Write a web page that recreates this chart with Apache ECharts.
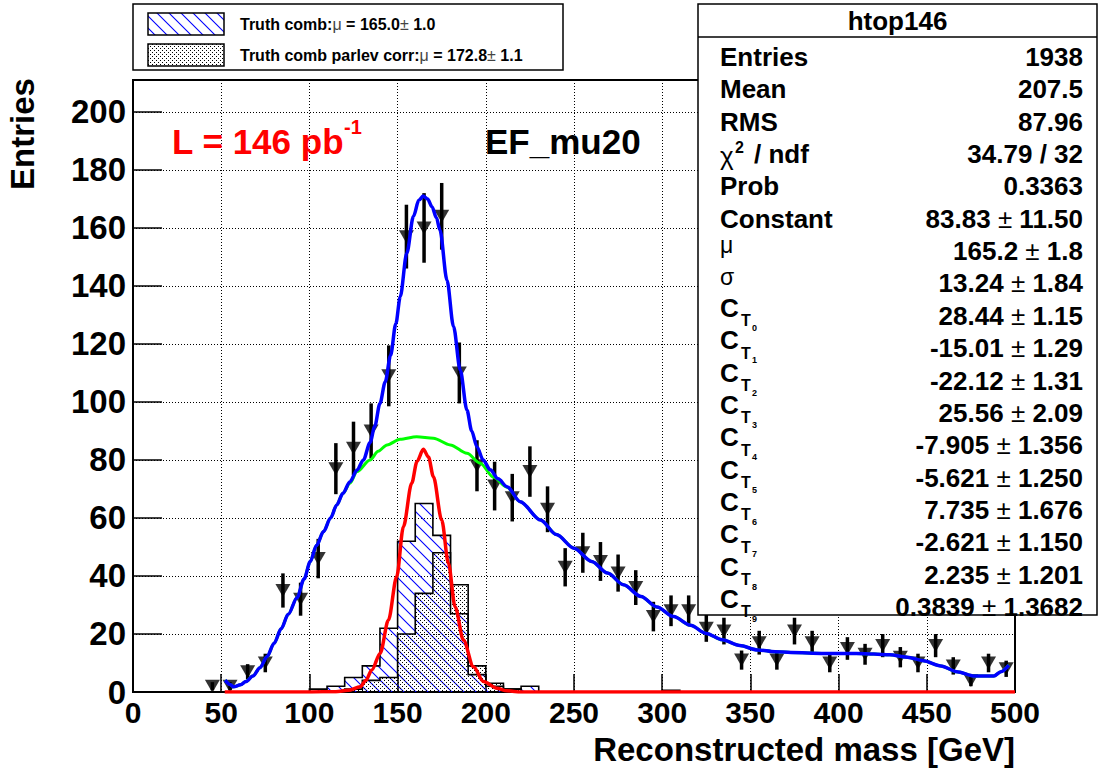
<!DOCTYPE html>
<html><head><meta charset="utf-8">
<script src="https://cdn.jsdelivr.net/npm/echarts@6/dist/echarts.min.js"></script>
<style>html,body{margin:0;padding:0;background:#fff}#c{width:1101px;height:769px}</style>
</head><body><div id="c"></div>
<script>
// ---------------- data ----------------
const binCenters = [45,55,65,75,85,95,105,115,125,135,145,155,165,175,185,195,205,215,225,235,245,255,265,275,285,295,305,315,325,335,345,355,365,375,385,395,405,415,425,435,445,455,465,475,485,495];
const entries = [2,2,7,10,35,32,46,77,84,90,109,157,160,164,110,78,71,67,76,63,43,48,45,41,36,26,28,28,22,21,11,17,11,21,17,10,15,13,16,12,10,16,9,4,10,8];
const entryErrors = [1.4,1.4,2.6,3.2,5.9,5.7,6.8,8.8,9.2,9.5,10.5,11,12,11.5,10.5,8.8,8.4,8.2,8.7,7.9,6.6,6.9,6.7,6.4,6,5.1,5.3,5.3,4.7,4.6,3.3,4.1,3.3,4.6,4.1,3.2,3.9,3.6,4,3.5,3.2,4,3,2,3.2,2.8];

const histBinLow = [100,110,120,130,140,150,160,170,180,190,200,210,220,230,240,250,260,270,280,290,300];
const histBinWidth = 10;
const truthComb       = [1,2,5,9,22,52,65,54,27,6,2,1,2,0,0,0,0,0,0,0,0.6];
const truthCombParlev = [0,0,1,4,5,20,34,48,37,9,3,1,0,0,0,0,0,0,0,0,0];

const fitTotal = [[52.2,4.1],[55,2.6],[57,1.8],[61,2.5],[64,3.6],[68,5.5],[72,8.4],[76,12.2],[80,16.8],[84,21.8],[88,26.8],[93,32.5],[97,39],[100.5,45],[104,50.5],[108,55.3],[112,60],[115.5,64.5],[119,68.5],[123,72.5],[127,76.5],[130.6,80],[134.4,86],[137,91.5],[140,99.5],[143,107],[146,116],[149,127],[151.5,136.3],[155.2,151.3],[159,164],[162,169.5],[164.5,171],[167,170],[169.5,167.3],[172,163.5],[174,159.3],[178,142],[181.7,126],[185.5,111],[189.3,97.2],[192,90],[195,84.5],[198.5,80],[202.5,76.6],[207,73.5],[212,70.8],[219.5,65.6],[231,59.3],[240,54.3],[250,49.6],[260,45],[269,41],[278,37],[288,32.9],[297,29.3],[306.5,26],[316,23],[325,20.2],[334,18],[344,16],[354,14.5],[364,13.9],[373,13.6],[392,13.3],[410,13.3],[420,13.1],[429,12.8],[439,12],[448,10.8],[458,9],[467,7],[477,5.5],[488,5.5],[492,7],[496.5,9.3]];
const fitBackground = [[52.2,4.1],[55,2.6],[57,1.8],[61,2.5],[64,3.6],[68,5.5],[72,8.4],[76,12.2],[80,16.8],[84,21.8],[88,26.8],[93,32.5],[97,39],[100.5,45],[104,50.5],[108,55.3],[112,60],[115.5,64.5],[119,68.5],[123,72],[127,76],[134.4,80],[139,83],[144,85.2],[151.4,87.1],[160.8,88],[170.3,87.5],[179.8,85.2],[189.3,82.3],[196.8,78.9],[204.4,74],[212,70.6],[219.5,65.6],[231,59.3],[240,54.3],[250,49.6],[260,45],[269,41],[278,37],[288,32.9],[297,29.3],[306.5,26],[316,23],[325,20.2],[334,18],[344,16],[354,14.5],[364,13.9],[373,13.6],[392,13.3],[410,13.3],[420,13.1],[429,12.8],[439,12],[448,10.8],[458,9],[467,7],[477,5.5],[488,5.5],[492,7],[496.5,9.3]];
const fitGaus = [[52,0],[100,0],[115,0.1],[122,0.6],[128.8,1.8],[132,4],[135.4,7.6],[140.1,13.3],[144.8,24.8],[149.5,39.8],[153.3,57],[158,72],[161,79.5],[164.6,83.7],[167.5,81],[170.3,74.2],[175,59.3],[178.8,44.4],[182.6,29.4],[187.3,17.9],[193,8.7],[198.7,3.6],[206.3,1.3],[212,0.4],[220,0],[500,0]];

const xTickStep = 50, yTickStep = 20;
const legendTexts = [
  ['Truth comb:', '165.0', '1.0'],
  ['Truth comb parlev corr:', '172.8', '1.1']
];
const statsTitle = 'htop146';
const statsPlain = [['Entries','1938'],['Mean','207.5'],['RMS','87.96'],['χ2 / ndf','34.79 / 32'],['Prob','0.3363']];
const statsParams = [['Constant','83.83','11.50'],['μ','165.2','1.8'],['σ','13.24','1.84'],
  ['T0','28.44','1.15'],['T1','-15.01','1.29'],['T2','-22.12','1.31'],['T3','25.56','2.09'],
  ['T4','-7.905','1.356'],['T5','-5.621','1.250'],['T6','7.735','1.676'],['T7','-2.621','1.150'],
  ['T8','2.235','1.201'],['T9','0.3839','1.3682']];

// ---------------- rendering ----------------
const FF = '"Liberation Sans", Arial, Helvetica, sans-serif';
function patternURL(w, h, draw){ const c=document.createElement('canvas'); c.width=w; c.height=h; draw(c.getContext('2d')); return c.toDataURL('image/png'); }
const hatchFill = {image: patternURL(12,12,g=>{ g.strokeStyle='#0000ff'; g.lineWidth=1.1; g.beginPath(); g.moveTo(-2,-2); g.lineTo(14,14); g.moveTo(-2,10); g.lineTo(2,14); g.moveTo(10,-2); g.lineTo(14,2); g.stroke(); }), repeat:'repeat', imageWidth:12, imageHeight:12};
const dotFill = {image: patternURL(4,4,g=>{ g.fillStyle='#000'; g.fillRect(0,0,1,1); g.fillRect(2,2,1,1); }), repeat:'repeat', imageWidth:4, imageHeight:4};

function histPts(vals){
  const pts=[[0,0],[histBinLow[0],0]];
  for(let i=0;i<histBinLow.length;i++){ pts.push([histBinLow[i],vals[i]]); pts.push([histBinLow[i]+histBinWidth,vals[i]]); }
  const last=histBinLow[histBinLow.length-1]+histBinWidth;
  pts.push([last,0]); pts.push([500,0]);
  return pts;
}
function histSeries(vals, fill){
  const pts = histPts(vals);
  return {type:'custom', coordinateSystem:'cartesian2d', silent:true, data:[[0,0]], encode:{x:0,y:1},
    renderItem:(p,api)=>{ const c=pts.map(q=>api.coord(q));
      return {type:'group', children:[
        {type:'polygon', shape:{points:c}, style:{fill:fill, stroke:null}},
        {type:'polyline', shape:{points:c}, style:{fill:null, stroke:'#000', lineWidth:1.6}}]}; }};
}

const chart = echarts.init(document.getElementById('c'), null, {renderer:'svg'});

const g = [];
// legend box
g.push({type:'rect', shape:{x:133,y:4,width:430,height:66}, style:{fill:'#fff', stroke:'#000', lineWidth:1.5}});
legendTexts.forEach((t,i)=>{
  const cy = 24 + i*31;
  g.push({type:'rect', shape:{x:148,y:cy-11,width:76,height:22}, style:{fill:i===0?hatchFill:dotFill, stroke:'#000', lineWidth:1.5}});
  g.push({type:'text', x:240, y:cy, style:{text:'{b|'+t[0]+'}{s|μ}{b| = '+t[1]+'}{s|±}{b| '+t[2]+'}', verticalAlign:'middle', align:'left',
    rich:{b:{font:'bold 16px '+FF, fill:'#000'}, s:{font:'16px '+FF, fill:'#444'}}}});
});
// stats box
const SX=698, SY=4, SW=399, SH=611, LX=720, RX=1083;
g.push({type:'rect', shape:{x:SX,y:SY,width:SW,height:SH}, style:{fill:'#fff', stroke:'#000', lineWidth:1.5}});
g.push({type:'line', shape:{x1:SX,y1:37,x2:SX+SW,y2:37}, style:{stroke:'#000', lineWidth:1.5}});
g.push({type:'text', x:SX+SW/2, y:21, style:{text:statsTitle, font:'bold 26px '+FF, fill:'#000', align:'center', verticalAlign:'middle'}});
const rowY = i => 57 + i*32.35;
const boldS = 'bold 26px '+FF;
statsPlain.forEach((r,i)=>{
  const y=rowY(i);
  if(r[0].startsWith('χ')){
    g.push({type:'text', x:LX, y:y+2, style:{text:'χ', font:'26px '+FF, fill:'#000', align:'left', verticalAlign:'middle'}});
    g.push({type:'text', x:LX+15, y:y-7, style:{text:'2', font:'bold 16px '+FF, fill:'#000', align:'left', verticalAlign:'middle'}});
    g.push({type:'text', x:LX+34, y:y, style:{text:'/ ndf', font:boldS, fill:'#000', align:'left', verticalAlign:'middle'}});
  } else {
    g.push({type:'text', x:LX, y:y, style:{text:r[0], font:boldS, fill:'#000', align:'left', verticalAlign:'middle'}});
  }
  g.push({type:'text', x:RX, y:y, style:{text:r[1], font:boldS, fill:'#000', align:'right', verticalAlign:'middle'}});
});
statsParams.forEach((r,j)=>{
  const y=rowY(j+5);
  if(r[0].startsWith('T')){
    g.push({type:'text', x:LX, y:y-8, style:{text:'C', font:boldS, fill:'#000', align:'left', verticalAlign:'middle'}});
    g.push({type:'text', x:LX+21, y:y+5, style:{text:'T', font:'bold 16px '+FF, fill:'#000', align:'left', verticalAlign:'middle'}});
    g.push({type:'text', x:LX+32, y:y+12, style:{text:r[0].slice(1), font:'bold 9px '+FF, fill:'#000', align:'left', verticalAlign:'middle'}});
  } else if(r[0]==='μ' || r[0]==='σ'){
    g.push({type:'text', x:LX, y:y-6, style:{text:r[0], font:'23px '+FF, fill:'#000', align:'left', verticalAlign:'middle'}});
  } else {
    g.push({type:'text', x:LX, y:y, style:{text:r[0], font:boldS, fill:'#000', align:'left', verticalAlign:'middle'}});
  }
  g.push({type:'text', x:RX, y:y, style:{text:'{b|'+r[1]+'}{s| ± }{b|'+r[2]+'}', align:'right', verticalAlign:'middle',
    rich:{b:{font:boldS, fill:'#000'}, s:{font:'26px '+FF, fill:'#000'}}}});
});
// plot texts
g.push({type:'text', x:172, y:141, style:{text:'L = 146 pb', font:'bold 35px '+FF, fill:'#ff0000', align:'left', verticalAlign:'middle'}});
g.push({type:'text', x:344, y:127, style:{text:'-1', font:'bold 20px '+FF, fill:'#ff0000', align:'left', verticalAlign:'middle'}});
g.push({type:'text', x:485, y:141, style:{text:'EF_mu20', font:'bold 35px '+FF, fill:'#000', align:'left', verticalAlign:'middle'}});
g.push({type:'text', x:22, y:134, rotation:Math.PI/2, style:{text:'Entries', font:'bold 33px '+FF, fill:'#000', align:'center', verticalAlign:'middle'}});
g.push({type:'text', x:1015, y:749, style:{text:'Reconstructed mass [GeV]', font:'bold 33px '+FF, fill:'#000', align:'right', verticalAlign:'middle'}});
g.forEach(e=>{ e.z = 100; e.silent = true; });

const labelStyle = {color:'#000', fontFamily:FF, fontWeight:'bold', fontSize:30};
const gridLine = {show:true, lineStyle:{color:'#000', width:1, type:[1,2]}};
chart.setOption({
  animation:false,
  backgroundColor:'#fff',
  grid:{left:133, right:86, top:80, bottom:77, show:true, borderColor:'#000', borderWidth:2, backgroundColor:'#fff'},
  xAxis:{type:'value', min:0, max:500, interval:xTickStep, axisLine:{show:false},
    axisTick:{show:true, inside:true, length:18, lineStyle:{color:'#000', width:1.5}},
    axisLabel:Object.assign({margin:5}, labelStyle), splitLine:gridLine},
  yAxis:{type:'value', min:0, max:211, interval:yTickStep, axisLine:{show:false},
    axisTick:{show:true, inside:true, length:29, lineStyle:{color:'#000', width:1.5}},
    axisLabel:Object.assign({margin:7, formatter:v=>(v%yTickStep===0?String(v):'')}, labelStyle, {fontSize:33}), splitLine:gridLine},
  graphic:{elements:g},
  series:[
    histSeries(truthComb, hatchFill),
    histSeries(truthCombParlev, dotFill),
    {type:'custom', coordinateSystem:'cartesian2d', silent:true, encode:{x:0,y:1},
      data: binCenters.map((x,i)=>[x, entries[i], entryErrors[i]]),
      renderItem:(p,api)=>{ const x=api.value(0), y=api.value(1), e=api.value(2);
        const a=api.coord([x,y-e]), b=api.coord([x,y+e]);
        return {type:'line', shape:{x1:a[0],y1:a[1],x2:b[0],y2:b[1]}, style:{stroke:'#000', lineWidth:3.5}}; }},
    {type:'scatter', silent:true, data: binCenters.map((x,i)=>[x, entries[i]]), symbol:'triangle', symbolRotate:180, symbolSize:[15,13], itemStyle:{color:'#000'}},
    {type:'line', silent:true, data:fitGaus, showSymbol:false, smooth:0.3, smoothMonotone:'x', lineStyle:{color:'#ff0000', width:3.5}},
    {type:'line', silent:true, data:fitBackground, showSymbol:false, smooth:0.3, smoothMonotone:'x', lineStyle:{color:'#00ff00', width:3}},
    {type:'line', silent:true, data:fitTotal, showSymbol:false, smooth:0.3, smoothMonotone:'x', lineStyle:{color:'#0000ff', width:3.5}}
  ]
});
</script></body></html>
